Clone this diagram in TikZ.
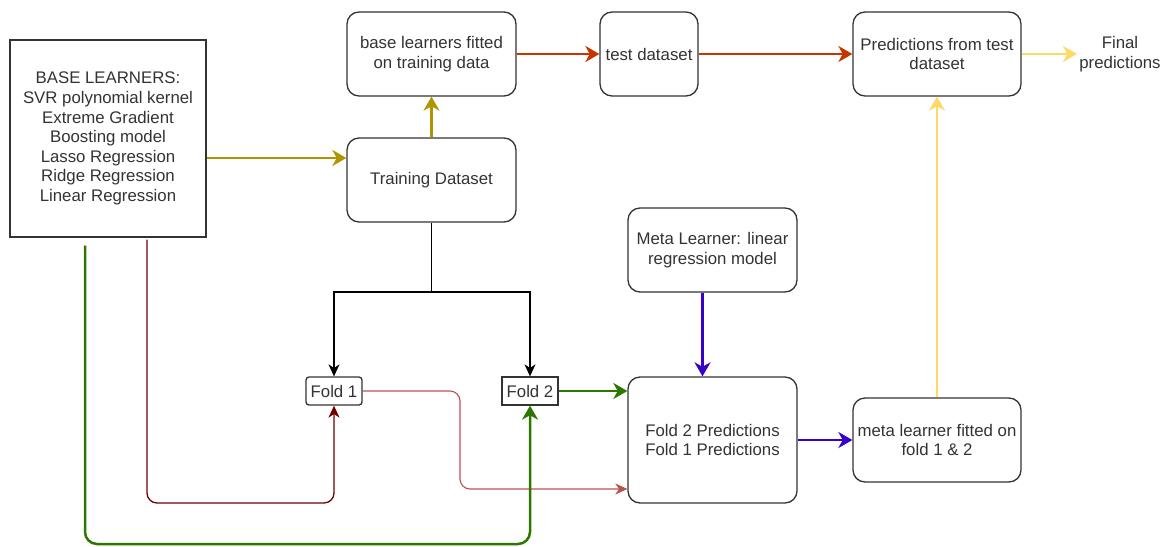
\documentclass[tikz,border=0pt]{standalone}
\usepackage{fontspec}
\setmainfont{Liberation Sans}
\usetikzlibrary{arrows.meta,calc}
\definecolor{olv}{HTML}{B09500}
\definecolor{org}{HTML}{C73500}
\definecolor{ylw}{HTML}{FFD966}
\definecolor{blu}{HTML}{3700CC}
\definecolor{grn}{HTML}{2D7600}
\definecolor{drd}{HTML}{6F0000}
\definecolor{lrd}{HTML}{B85450}
\definecolor{txt}{HTML}{333333}
\begin{document}
\begin{tikzpicture}[x=0.5pt,y=-0.5pt,
  box/.style={draw=txt, line width=0.65pt, rounded corners=6pt, align=center, text=txt,
    font=\fontsize{8.4}{9.8}\selectfont, inner sep=0pt, minimum width=84.5pt, minimum height=42pt},
  foldbox/.style={draw=txt, line width=0.65pt, align=center, text=txt,
    font=\fontsize{8.4}{9.8}\selectfont, inner sep=0pt, minimum width=28pt, minimum height=14pt},
  thick arrow/.style={line width=1.25pt, -{Stealth[length=7pt,width=8pt,inset=2.2pt]}},
  thin arrow/.style={line width=0.65pt, -{Stealth[length=6pt,width=5.5pt,inset=1.8pt]}},
]
\useasboundingbox (0,0) rectangle (1166,546);

% nodes
\node[box, rounded corners=0pt, minimum width=98pt, minimum height=98.5pt] (base) at (108,138.5)
  {BASE LEARNERS:\\SVR polynomial kernel\\Extreme Gradient\\Boosting model\\Lasso Regression\\Ridge Regression\\Linear Regression};
\node[box] (train) at (431.5,180) {Training Dataset};
\node[box] (fit) at (431.5,54) {base learners fitted\\on training data};
\node[box, minimum width=49pt] (test) at (649,54) {test dataset};
\node[box, minimum width=84pt] (pred) at (937,54) {Predictions from test\\dataset};
\node[align=center, text=txt, font=\fontsize{8.4}{9.8}\selectfont, inner sep=1pt] (final) at (1120,54) {Final\\predictions};
\node[box] (meta) at (712.5,250) {Meta Learner: linear\\regression model};
\node[box, minimum height=63pt] (fpred) at (712.5,440) {Fold 2 Predictions\\Fold 1 Predictions};
\node[box, minimum width=84pt] (mfit) at (937,440) {meta learner fitted on\\fold 1 \& 2};
\node[foldbox, rounded corners=1.5pt] (fold1) at (334,391) {Fold 1};
\node[foldbox] (fold2) at (530,391) {Fold 2};

% coordinates
\coordinate (tin) at ($(train.west)+(0,-22)$);
\coordinate (split) at (431.5,292);
\coordinate (f1turn) at (460,489);
\coordinate (rd) at (334,503);
\coordinate (gd) at (530,544);

% connectors
\draw[thick arrow, olv] (tin -| base.east) -- (tin);
\draw[thick arrow, olv] (train.north) -- (fit.south);
\draw[thick arrow, org] (fit.east) -- (test.west);
\draw[thick arrow, org] (test.east) -- (pred.west);
\draw[thick arrow, ylw] (pred.east) -- (final.west);
\draw[thick arrow, ylw] (mfit.north) -- (pred.south);
\draw[thick arrow, blu] ([xshift=-5pt]meta.south) -- ([xshift=-5pt]fpred.north);
\draw[thick arrow, blu] (fpred.east) -- (mfit.west);
\draw[thick arrow, grn] (fold2.east) -- (fold2.east -| fpred.west);

\draw[line width=0.65pt, black] (train.south) -- (split);
\draw[thin arrow, black] (split) -| (fold1.north);
\draw[thin arrow, black] (split) -| (fold2.north);

\draw[thin arrow, lrd, line width=0.55pt, rounded corners=5pt] (fold1.east) -| (f1turn) -- (f1turn -| fpred.west);
\draw[thin arrow, drd, rounded corners=5pt] ([xshift=19.5pt,yshift=-1pt]base.south) |- (rd) -- (fold1.south);
\draw[thick arrow, grn, rounded corners=6pt] ([xshift=-11.5pt,yshift=-4pt]base.south) |- (gd) -- (fold2.south);
\end{tikzpicture}
\end{document}
